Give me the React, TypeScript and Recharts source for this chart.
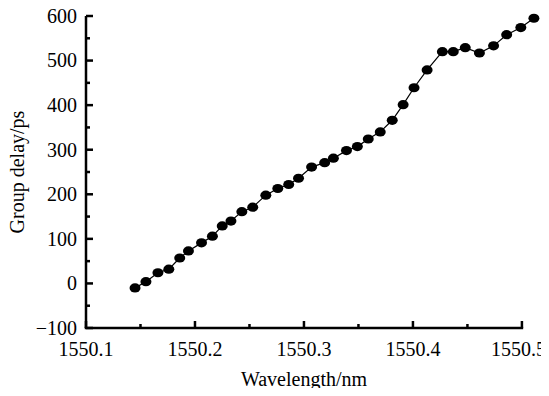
import { LineChart, Line, XAxis, YAxis, ReferenceLine } from "recharts";

const wavelengths = [
  1550.145, 1550.155, 1550.166, 1550.176, 1550.186, 1550.194, 1550.206, 1550.216, 1550.225,
  1550.233, 1550.243, 1550.253, 1550.265, 1550.276, 1550.286, 1550.295, 1550.307, 1550.319,
  1550.327, 1550.339, 1550.349, 1550.359, 1550.37, 1550.381, 1550.391, 1550.401, 1550.413,
  1550.427, 1550.437, 1550.448, 1550.461, 1550.474, 1550.486, 1550.499, 1550.511,
];

const delays = [
  -10, 4, 24, 32, 57, 73, 91, 106, 129, 140, 161, 171, 198, 213, 222, 236, 261, 271, 281, 298,
  307, 324, 340, 366, 401, 439, 479, 520, 520, 529, 517, 533, 558, 574, 595,
];

const xMajor = [1550.1, 1550.2, 1550.3, 1550.4, 1550.5];
const xMinor = [1550.15, 1550.25, 1550.35, 1550.45];
const yMajor = [-100, 0, 100, 200, 300, 400, 500, 600];
const yMinor = [-50, 50, 150, 250, 350, 450, 550];

const data = wavelengths.map((w, i) => ({ w, d: delays[i] }));

const FONT = '"Liberation Serif", "Times New Roman", serif';

const isMajor = (list: number[], v: number) => list.some((m) => Math.abs(m - v) < 1e-6);

// ticks point inward, labels outside
function XTick(props: any) {
  const { x, y, payload } = props;
  const major = isMajor(xMajor, payload.value);
  const last = Math.abs(payload.value - 1550.5) < 1e-6;
  return (
    <g>
      <line x1={x} x2={x} y1={y} y2={y - (major ? 7 : 4)} stroke="#000" strokeWidth={2.5} />
      {major && (
        <text
          x={last ? 546 : x}
          y={y + 28}
          textAnchor={last ? "end" : "middle"}
          fontFamily={FONT}
          fontSize={20}
          fill="#000"
        >
          {payload.value.toFixed(1)}
        </text>
      )}
    </g>
  );
}

function YTick(props: any) {
  const { x, y, payload } = props;
  const major = isMajor(yMajor, payload.value);
  return (
    <g>
      <line x1={x} x2={x + (major ? 7 : 4)} y1={y} y2={y} stroke="#000" strokeWidth={2.5} />
      {major && (
        <text x={x - 9} y={y} dy="0.34em" textAnchor="end" fontFamily={FONT} fontSize={20} fill="#000">
          {payload.value < 0 ? `\u2212${Math.abs(payload.value)}` : payload.value}
        </text>
      )}
    </g>
  );
}

function Dot(props: any) {
  const { cx, cy } = props;
  if (cx == null || cy == null) return null;
  return <ellipse cx={cx} cy={cy} rx={5.5} ry={4.6} fill="#000" />;
}

export default function App() {
  return (
    <div style={{ margin: -8, width: 549, height: 396, background: "#fff" }}>
      <LineChart width={549} height={396} data={data} margin={{ top: 16, right: 14, bottom: 0, left: 0 }}>
        <XAxis
          dataKey="w"
          type="number"
          domain={[1550.1, 1550.512]}
          ticks={[...xMajor, ...xMinor]}
          axisLine={false}
          tickLine={false}
          tickSize={0}
          tickMargin={0}
          height={68}
          interval={0}
          tick={<XTick />}
          label={{
            content: () => (
              <text x={304} y={386} textAnchor="middle" fontFamily={FONT} fontSize={20} fill="#000">
                Wavelength/nm
              </text>
            ),
          }}
        />
        <YAxis
          type="number"
          domain={[-100, 600]}
          ticks={[...yMajor, ...yMinor]}
          axisLine={{ stroke: "#000", strokeWidth: 2.5 }}
          tickLine={false}
          tickSize={0}
          tickMargin={0}
          width={86}
          interval={0}
          tick={<YTick />}
          label={{
            content: () => (
              <text
                transform="translate(24,172) rotate(-90)"
                textAnchor="middle"
                fontFamily={FONT}
                fontSize={20}
                fill="#000"
              >
                Group delay/ps
              </text>
            ),
          }}
        />
        <ReferenceLine
          segment={[
            { x: 1550.1, y: -100 },
            { x: 1550.5, y: -100 },
          ]}
          stroke="#000"
          strokeWidth={2.5}
          strokeLinecap="square"
        />
        <Line
          dataKey="d"
          stroke="#000"
          strokeWidth={1.2}
          dot={<Dot />}
          activeDot={false}
          isAnimationActive={false}
        />
      </LineChart>
    </div>
  );
}
